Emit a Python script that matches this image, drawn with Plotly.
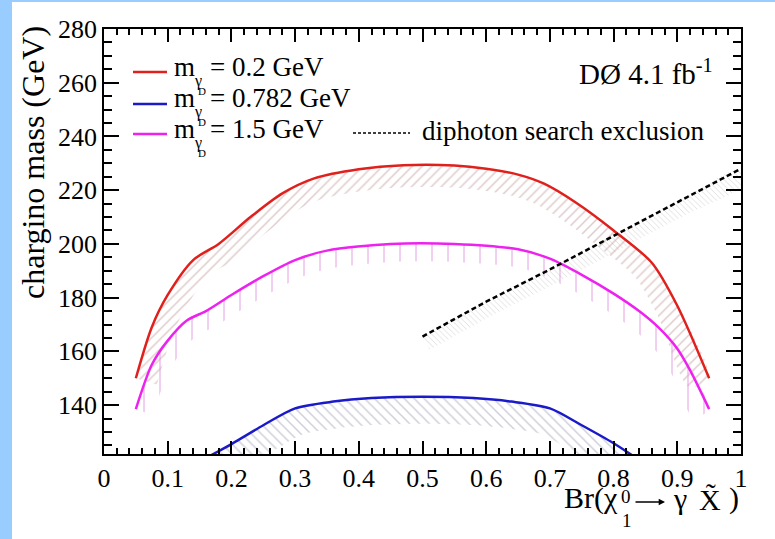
import numpy as np
import plotly.graph_objects as go

# ---------------- data ----------------
red_x = [0.05, 0.075, 0.10, 0.14, 0.18, 0.23, 0.28, 0.33, 0.40, 0.47, 0.55, 0.60, 0.65, 0.69, 0.74, 0.80, 0.86, 0.90, 0.95]
red_y = [150, 169, 181, 194, 200, 210, 218.8, 224.4, 227.8, 229.3, 229.2, 228, 225.8, 222.5, 215.5, 205, 193, 177, 150]

mag_x = [0.05, 0.075, 0.10, 0.13, 0.16, 0.20, 0.25, 0.30, 0.35, 0.45, 0.55, 0.65, 0.70, 0.75, 0.80, 0.84, 0.87, 0.90, 0.92, 0.95]
mag_y = [138.5, 155, 164, 171.5, 175, 181, 188, 194, 197.5, 200, 200, 198, 194.5, 188.5, 181.5, 175, 169, 161, 153, 138.5]

blue_x = [0.15, 0.20, 0.25, 0.30, 0.36, 0.42, 0.50, 0.58, 0.64, 0.70, 0.75, 0.80, 0.85]
blue_y = [119, 125.5, 132.5, 138.8, 141.3, 142.6, 143.1, 142.6, 141.3, 138.8, 132.5, 125.8, 118]

dip_x = [0.50, 0.55, 0.60, 0.70, 0.80, 0.90, 1.00]
dip_y = [165.5, 172.0, 178.5, 190.5, 203.0, 215.5, 228.0]

legend_labels = ["= 0.2 GeV", "= 0.782 GeV", "= 1.5 GeV"]

x_range = [0, 1]
y_range = [121.8, 280]

# ---------------- layout geometry ----------------
W, H = 775, 539
ML, MR, MT, MB = 104, 34, 29, 85
PW = W - ML - MR
PH = H - MT - MB
FONT = "Liberation Serif"


def band(xs, ys, width_px):
    """Polygon for a hatched exclusion band drawn on the right-hand side of the curve."""
    xs = np.asarray(xs, float)
    ys = np.asarray(ys, float)
    sx = PW / (x_range[1] - x_range[0])
    sy = PH / (y_range[1] - y_range[0])
    px, py = xs * sx, ys * sy
    tx, ty = np.gradient(px), np.gradient(py)
    n = np.hypot(tx, ty)
    nx, ny = ty / n, -tx / n
    ox = (px + width_px * nx) / sx
    oy = (py + width_px * ny) / sy
    return list(xs) + list(ox[::-1]), list(ys) + list(oy[::-1])


fig = go.Figure()


def add_band(xs, ys, w, shape, fg, size, solidity):
    bx, by = band(xs, ys, w)
    fig.add_trace(go.Scatter(
        x=bx, y=by, mode="lines", fill="toself",
        line=dict(width=0, color="rgba(0,0,0,0)", shape="spline", smoothing=0.8),
        fillcolor="rgba(0,0,0,0)",
        fillpattern=dict(shape=shape, fgcolor=fg, bgcolor="rgba(0,0,0,0)",
                         size=size, solidity=solidity),
        hoverinfo="skip", showlegend=False))


add_band(red_x, red_y, 22, "/", "rgba(185,140,140,0.9)", 7, 0.22)
add_band(blue_x, blue_y, 27, "\\", "rgba(150,150,175,0.9)", 7, 0.22)
add_band(mag_x, mag_y, 18, "|", "rgba(225,150,225,0.95)", 16, 0.12)
add_band(dip_x, dip_y, 15, "\\", "rgba(170,170,170,0.8)", 4, 0.22)

LS = dict(shape="spline", smoothing=0.8)
fig.add_trace(go.Scatter(x=red_x, y=red_y, mode="lines",
                         line=dict(color="#e0201c", width=2.5, **LS), showlegend=False))
fig.add_trace(go.Scatter(x=blue_x, y=blue_y, mode="lines",
                         line=dict(color="#1a1ac8", width=2.5, **LS), showlegend=False))
fig.add_trace(go.Scatter(x=mag_x, y=mag_y, mode="lines",
                         line=dict(color="#ee22ee", width=2.5, **LS), showlegend=False))
fig.add_trace(go.Scatter(x=dip_x, y=dip_y, mode="lines",
                         line=dict(color="black", width=2.5, dash="5px,3px"), showlegend=False))


def px2x(p):
    return (p - ML) / PW


def py2y(p):
    return 1 - (p - MT) / PH


shapes = []
annotations = []


def text(x, y, s, size, xanchor="left", angle=0):
    annotations.append(dict(xref="paper", yref="paper", x=px2x(x), y=py2y(y),
                            xanchor=xanchor, yanchor="middle", showarrow=False, text=s,
                            textangle=angle, borderpad=0,
                            font=dict(family=FONT, size=size, color="black")))


# light-blue frame strips
shapes.append(dict(type="rect", xref="paper", yref="paper", x0=px2x(0), x1=px2x(12),
                   y0=py2y(H), y1=py2y(0), fillcolor="#99ccff", line=dict(width=0), layer="below"))
shapes.append(dict(type="rect", xref="paper", yref="paper", x0=px2x(0), x1=px2x(W),
                   y0=py2y(2), y1=py2y(0), fillcolor="#99ccff", line=dict(width=0), layer="below"))

# legend
leg_colors = ["#e0201c", "#1a1ac8", "#ee22ee"]
leg_text_y = [67, 98, 129]
leg_line_y = [72, 104, 134]
for lab, col, ty, ly in zip(legend_labels, leg_colors, leg_text_y, leg_line_y):
    shapes.append(dict(type="line", xref="paper", yref="paper", x0=px2x(133), x1=px2x(167),
                       y0=py2y(ly), y1=py2y(ly), line=dict(color=col, width=2.5)))
    text(173, ty, "m", 27)
    text(198, ty + 14, "γ", 16, xanchor="center")
    text(202, ty + 24, "D", 11, xanchor="center")
    text(209, ty, lab, 27)

shapes.append(dict(type="line", xref="paper", yref="paper", x0=px2x(353), x1=px2x(410),
                   y0=py2y(133), y1=py2y(133), line=dict(color="black", width=1.5, dash="3px,2px")))
text(421, 131, "diphoton search exclusion", 27)
text(714, 72, "DØ 4.1 fb<sup>-1</sup>", 29, xanchor="right")

# axis titles
text(33, 163, "chargino mass (GeV)", 32, xanchor="center", angle=-90)
text(563, 498, "Br(χ", 30)
text(626, 496, "0", 19, xanchor="center")
text(627, 520, "1", 19, xanchor="center")
annotations.append(dict(xref="paper", yref="paper", x=px2x(665), y=py2y(502),
                        ax=-31, ay=0, text="", showarrow=True, arrowhead=2,
                        arrowsize=0.9, arrowwidth=1.4, arrowcolor="black"))
text(680, 498, "γ", 30, xanchor="center")
text(710, 500, "X̃", 30, xanchor="center")
text(734, 498, ")", 30, xanchor="center")

axis_common = dict(showline=True, linecolor="black", linewidth=1.5, mirror="allticks",
                   ticks="inside", tickcolor="black", tickwidth=1.5, showgrid=False,
                   zeroline=False, tickfont=dict(family=FONT, size=26, color="black"))

fig.update_layout(
    width=W, height=H,
    margin=dict(l=ML, r=MR, t=MT, b=MB),
    paper_bgcolor="white", plot_bgcolor="white",
    xaxis=dict(range=x_range, dtick=0.1, tick0=0, ticklen=13,
               minor=dict(ticks="inside", dtick=0.02, ticklen=6, tickcolor="black", tickwidth=1.5),
               **axis_common),
    yaxis=dict(range=y_range, dtick=20, tick0=0, ticklen=15,
               minor=dict(ticks="inside", dtick=5, ticklen=8, tickcolor="black", tickwidth=1.5),
               **axis_common),
    shapes=shapes, annotations=annotations, showlegend=False,
)

fig.write_html("out.html")
